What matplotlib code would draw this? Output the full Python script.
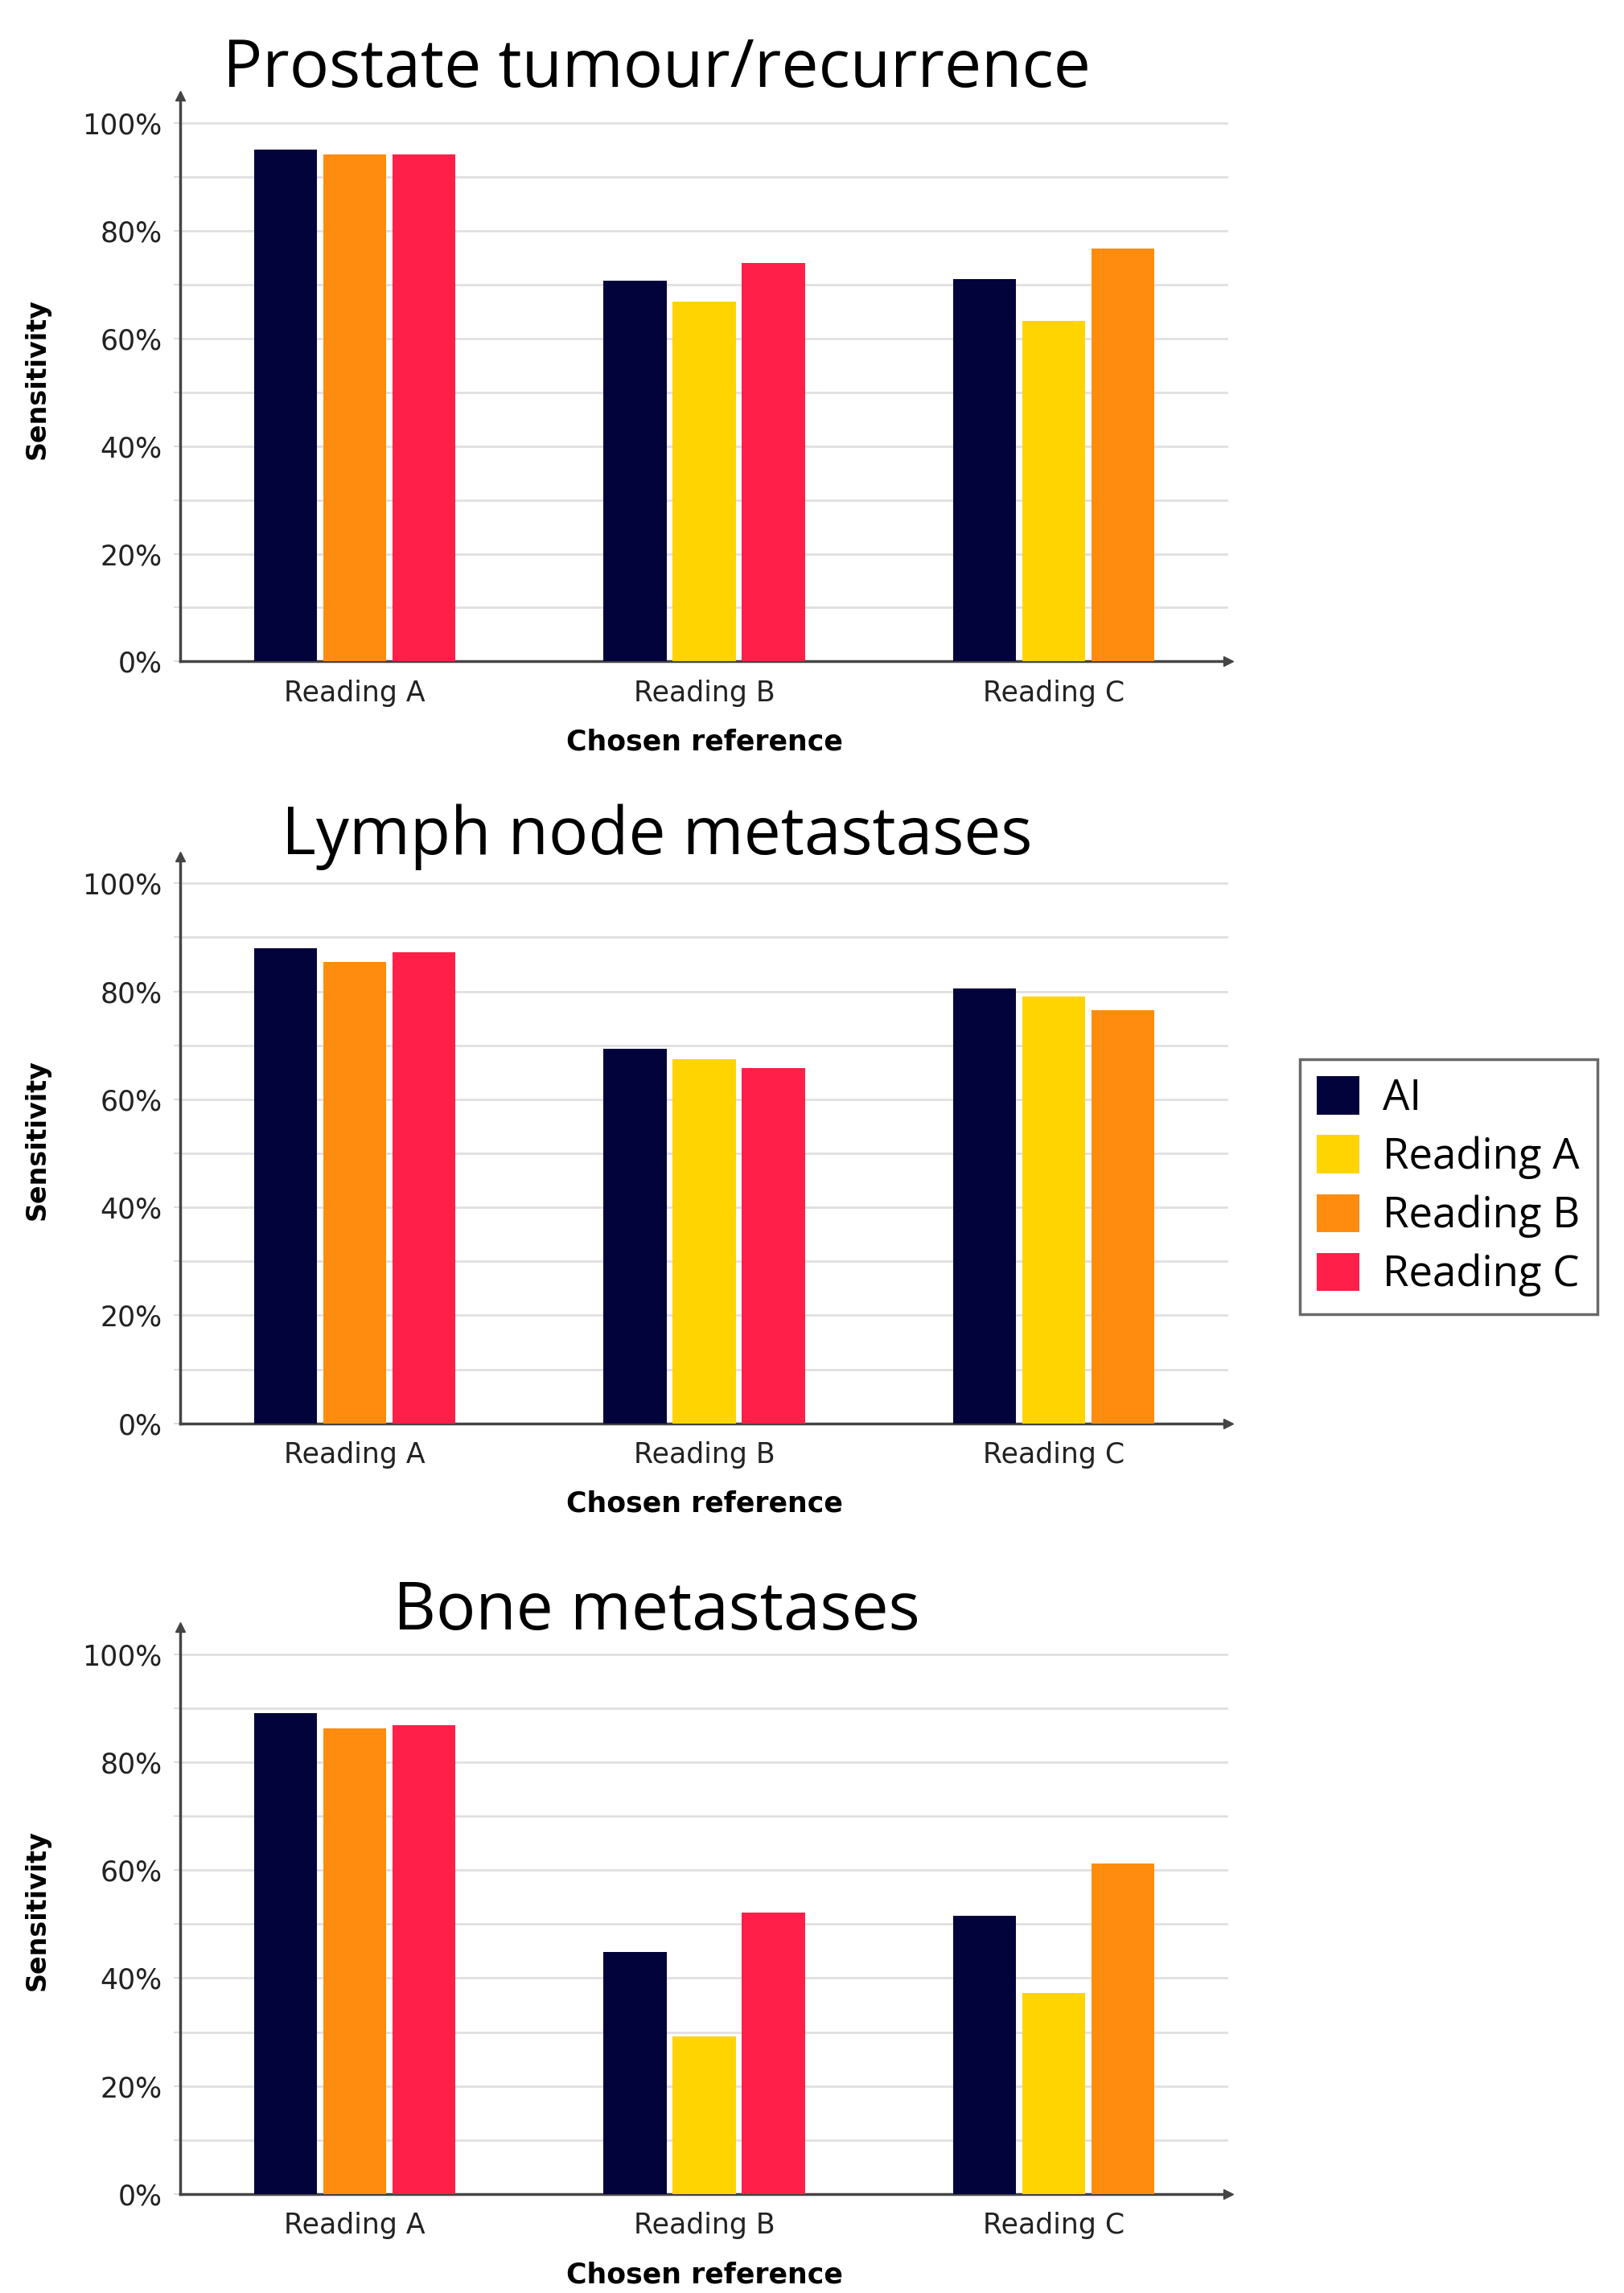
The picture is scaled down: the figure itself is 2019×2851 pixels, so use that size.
import numpy as np
import matplotlib
matplotlib.use("Agg")
import matplotlib.pyplot as plt
from matplotlib.patches import Patch

# categories
groups = ["Reading A", "Reading B", "Reading C"]
series = ["AI", "Reading A", "Reading B", "Reading C"]
colors = ["#03033b", "#ffd400", "#ff8c0f", "#ff1f48"]
titles = ["Prostate tumour/recurrence", "Lymph node metastases", "Bone metastases"]

# sensitivity (%) per chosen reference, nan = reference itself (not drawn)
nan = np.nan
prostate_ai = [95.1, 70.7, 71.0]
prostate_a = [nan, 66.8, 63.3]
prostate_b = [94.2, nan, 76.7]
prostate_c = [94.2, 74.0, nan]

lymph_ai = [88.0, 69.4, 80.6]
lymph_a = [nan, 67.5, 79.0]
lymph_b = [85.5, nan, 76.5]
lymph_c = [87.2, 65.8, nan]

bone_ai = [89.1, 44.8, 51.6]
bone_a = [nan, 29.2, 37.2]
bone_b = [86.3, nan, 61.2]
bone_c = [86.9, 52.2, nan]

panels = [
    [prostate_ai, prostate_a, prostate_b, prostate_c],
    [lymph_ai, lymph_a, lymph_b, lymph_c],
    [bone_ai, bone_a, bone_b, bone_c],
]

W, H = 1100.0, 1553.0  # reference layout units
fig = plt.figure(figsize=(20.19, 28.51), dpi=100)

# (zero line y, top arrow y, title y) in layout units
frames = [(448, 65, 47), (964, 580, 567), (1486, 1102, 1092)]
x0, x1 = 122, 832

tick_font = ["Liberation Sans Narrow", "DejaVu Sans"]
bar_w = 0.181
step = 0.198

for vals, (yb, yt, ty), title in zip(panels, frames, titles):
    ax = fig.add_axes([x0 / W, 1 - yb / H, (x1 - x0) / W, (yb - yt) / H])
    for gi in range(len(groups)):
        present = [si for si in range(len(series)) if not np.isnan(vals[si][gi])]
        for k, si in enumerate(present):
            ax.bar(gi + (k - 1) * step, vals[si][gi], width=bar_w,
                   color=colors[si], zorder=3)
    ax.set_xlim(-0.5, 2.5)
    ax.set_ylim(0, 105)
    ax.set_yticks(np.arange(0, 101, 20))
    ax.set_yticks(np.arange(0, 101, 10), minor=True)
    ax.set_yticklabels([f"{v}%" for v in range(0, 101, 20)],
                       family=tick_font, fontsize=25, color="#222222")
    ax.yaxis.grid(True, which="both", color="#e0e0e0", lw=2, zorder=0)
    ax.tick_params(axis="y", which="both", length=6, width=1.5, color="#dcdcdc", pad=10)
    ax.set_xticks(range(len(groups)))
    ax.set_xticklabels(groups, family=tick_font, fontsize=25, color="#222222")
    ax.tick_params(axis="x", length=0, pad=16)
    for s in ["top", "right"]:
        ax.spines[s].set_visible(False)
    for s in ["left", "bottom"]:
        ax.spines[s].set_color("#444444")
        ax.spines[s].set_linewidth(2.5)
    ax.plot(0, 1, marker="^", color="#444444", ms=8, transform=ax.transAxes, clip_on=False)
    ax.plot(1, 0, marker=">", color="#444444", ms=8, transform=ax.transAxes, clip_on=False)
    ax.set_ylabel("Sensitivity", fontsize=24, fontweight="bold")
    ax.yaxis.set_label_coords(-0.124, 0.5)
    ax.set_xlabel("Chosen reference", family=tick_font, fontsize=25, fontweight="bold")
    ax.xaxis.set_label_coords(0.5, -0.118)
    fig.text(445 / W, 1 - ty / H, title, family=["Open Sans", "DejaVu Sans"],
             fontsize=59, ha="center", va="center")

handles = [Patch(facecolor=c, label=s) for c, s in zip(colors, series)]
leg = fig.legend(handles=handles, loc="center", bbox_to_anchor=(0.892, 0.4825),
                 prop={"family": ["Open Sans", "DejaVu Sans"], "size": 38},
                 frameon=True, fancybox=False, edgecolor="#444444",
                 handlelength=1.0, handleheight=1.0, handletextpad=0.55,
                 labelspacing=0.35, borderpad=0.4, borderaxespad=0)
leg.get_frame().set_linewidth(2.5)

fig.savefig("out.png", dpi=100, facecolor="white")
